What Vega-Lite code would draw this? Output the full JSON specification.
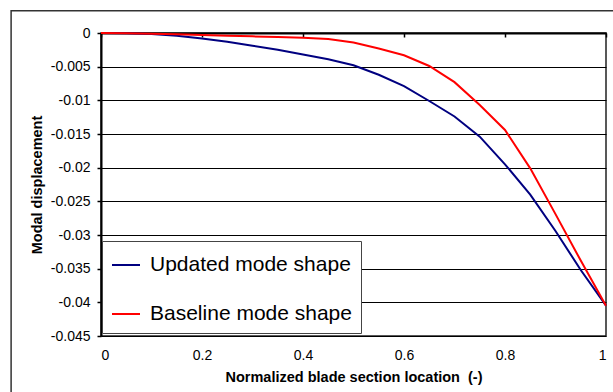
{
  "$schema": "https://vega.github.io/schema/vega-lite/v6.json",
  "width": 505,
  "height": 303,
  "autosize": {"type": "none"},
  "padding": {"left": 101, "top": 33, "right": 7, "bottom": 56},
  "background": "white",
  "config": {
    "font": "Liberation Sans",
    "view": {"stroke": "#222222", "strokeWidth": 1.5}
  },
  "layer": [
    {
      "data": {"values": [{"frame": 1}]},
      "mark": {"type": "rect", "fillOpacity": 0, "stroke": "#333333", "strokeWidth": 1.5, "clip": false},
      "encoding": {
        "x": {
          "datum": -0.178,
          "type": "quantitative",
          "scale": {"domain": [0, 1], "nice": false, "zero": false},
          "axis": {
            "orient": "top",
            "values": [0, 0.2, 0.4, 0.6, 0.8, 1],
            "labels": false,
            "title": null,
            "grid": false,
            "domain": true,
            "domainColor": "#000000",
            "domainWidth": 2,
            "ticks": true,
            "tickSize": -4,
            "tickColor": "#000000",
            "tickWidth": 1.5
          }
        },
        "x2": {"datum": 1.03},
        "y": {
          "datum": 0.0033,
          "type": "quantitative",
          "scale": {"domain": [-0.045, 0], "nice": false, "zero": false},
          "axis": null
        },
        "y2": {"datum": -0.0545}
      }
    },
    {
      "data": {
        "values": [
          {"x": 0, "y": 0, "series": "Updated mode shape"},
          {"x": 0.05, "y": -0.00003, "series": "Updated mode shape"},
          {"x": 0.1, "y": -0.00015, "series": "Updated mode shape"},
          {"x": 0.15, "y": -0.0004, "series": "Updated mode shape"},
          {"x": 0.2, "y": -0.0008, "series": "Updated mode shape"},
          {"x": 0.25, "y": -0.0013, "series": "Updated mode shape"},
          {"x": 0.3, "y": -0.0019, "series": "Updated mode shape"},
          {"x": 0.35, "y": -0.0025, "series": "Updated mode shape"},
          {"x": 0.4, "y": -0.0032, "series": "Updated mode shape"},
          {"x": 0.45, "y": -0.0039, "series": "Updated mode shape"},
          {"x": 0.5, "y": -0.0048, "series": "Updated mode shape"},
          {"x": 0.55, "y": -0.0062, "series": "Updated mode shape"},
          {"x": 0.6, "y": -0.0079, "series": "Updated mode shape"},
          {"x": 0.65, "y": -0.0101, "series": "Updated mode shape"},
          {"x": 0.7, "y": -0.0124, "series": "Updated mode shape"},
          {"x": 0.75, "y": -0.0154, "series": "Updated mode shape"},
          {"x": 0.8, "y": -0.0195, "series": "Updated mode shape"},
          {"x": 0.85, "y": -0.0240, "series": "Updated mode shape"},
          {"x": 0.9, "y": -0.0294, "series": "Updated mode shape"},
          {"x": 0.95, "y": -0.0352, "series": "Updated mode shape"},
          {"x": 1, "y": -0.0405, "series": "Updated mode shape"},
          {"x": 0, "y": 0, "series": "Baseline mode shape"},
          {"x": 0.05, "y": -0.00002, "series": "Baseline mode shape"},
          {"x": 0.1, "y": -0.0001, "series": "Baseline mode shape"},
          {"x": 0.15, "y": -0.0002, "series": "Baseline mode shape"},
          {"x": 0.2, "y": -0.0003, "series": "Baseline mode shape"},
          {"x": 0.25, "y": -0.0004, "series": "Baseline mode shape"},
          {"x": 0.3, "y": -0.0005, "series": "Baseline mode shape"},
          {"x": 0.35, "y": -0.0006, "series": "Baseline mode shape"},
          {"x": 0.4, "y": -0.0007, "series": "Baseline mode shape"},
          {"x": 0.45, "y": -0.0009, "series": "Baseline mode shape"},
          {"x": 0.5, "y": -0.0014, "series": "Baseline mode shape"},
          {"x": 0.55, "y": -0.0023, "series": "Baseline mode shape"},
          {"x": 0.6, "y": -0.0033, "series": "Baseline mode shape"},
          {"x": 0.65, "y": -0.0049, "series": "Baseline mode shape"},
          {"x": 0.7, "y": -0.0073, "series": "Baseline mode shape"},
          {"x": 0.75, "y": -0.0107, "series": "Baseline mode shape"},
          {"x": 0.8, "y": -0.0144, "series": "Baseline mode shape"},
          {"x": 0.85, "y": -0.0201, "series": "Baseline mode shape"},
          {"x": 0.9, "y": -0.0269, "series": "Baseline mode shape"},
          {"x": 0.95, "y": -0.0338, "series": "Baseline mode shape"},
          {"x": 1, "y": -0.0405, "series": "Baseline mode shape"}
        ]
      },
      "mark": {"type": "line", "strokeWidth": 2},
      "encoding": {
        "x": {
          "field": "x",
          "type": "quantitative",
          "scale": {"domain": [0, 1], "nice": false, "zero": false},
          "axis": {
            "orient": "bottom",
            "values": [0, 0.2, 0.4, 0.6, 0.8, 1],
            "format": "~g",
            "grid": false,
            "domain": false,
            "ticks": false,
            "labelFont": "Liberation Sans",
            "labelFontSize": 14,
            "labelColor": "#000000",
            "labelPadding": 12,
            "title": "Normalized blade section location \u00a0(-)",
            "titleFont": "Liberation Sans",
            "titleFontSize": 14.5,
            "titleFontWeight": "bold",
            "titleColor": "#000000",
            "titlePadding": 8
          }
        },
        "y": {
          "field": "y",
          "type": "quantitative",
          "scale": {"domain": [-0.045, 0], "nice": false, "zero": false},
          "axis": {
            "orient": "left",
            "values": [0, -0.005, -0.01, -0.015, -0.02, -0.025, -0.03, -0.035, -0.04, -0.045],
            "labelExpr": "replace(format(datum.value, '~g'), '\u2212', '-')",
            "grid": true,
            "gridColor": "#000000",
            "gridWidth": 1,
            "gridOpacity": 1,
            "domain": true,
            "domainColor": "#000000",
            "domainWidth": 2,
            "ticks": true,
            "tickSize": 4,
            "tickColor": "#000000",
            "tickWidth": 1.5,
            "labelFont": "Liberation Sans",
            "labelFontSize": 14,
            "labelColor": "#000000",
            "labelPadding": 7,
            "title": "Modal displacement",
            "titleFont": "Liberation Sans",
            "titleFontSize": 14.5,
            "titleFontWeight": "bold",
            "titleColor": "#000000",
            "titlePadding": 6
          }
        },
        "color": {
          "field": "series",
          "type": "nominal",
          "sort": null,
          "scale": {
            "domain": ["Updated mode shape", "Baseline mode shape"],
            "range": ["#000080", "#FF0000"]
          },
          "legend": {
            "orient": "none",
            "legendX": 1,
            "legendY": 208,
            "title": null,
            "fillColor": "#FFFFFF",
            "strokeColor": "#444444",
            "padding": 9,
            "symbolType": "stroke",
            "symbolSize": 784,
            "symbolStrokeWidth": 2,
            "labelFont": "Liberation Sans",
            "labelFontSize": 21,
            "labelColor": "#000000",
            "labelOffset": 9,
            "labelLimit": 400,
            "rowPadding": 24
          }
        }
      }
    }
  ],
  "resolve": {"axis": {"x": "independent", "y": "independent"}}
}
